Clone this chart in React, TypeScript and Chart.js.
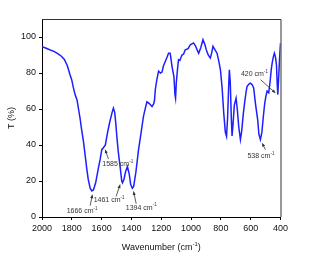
import { useEffect, useRef } from "react";
import { Chart, registerables } from "chart.js";

Chart.register(...registerables);

const wavenumbers = [
  2000, 1980, 1960, 1940, 1920, 1900, 1880, 1868, 1850, 1830, 1812, 1800, 1790, 1778, 1765, 1755, 1745, 1735, 1722, 1710,
  1700, 1690, 1677, 1666, 1655, 1640, 1622, 1610, 1599, 1588, 1575, 1560, 1545, 1530, 1521, 1512, 1505, 1498, 1488, 1476,
  1465, 1460, 1450, 1440, 1427, 1415, 1405, 1394, 1385, 1370, 1353, 1335, 1319, 1305, 1296, 1280, 1262, 1250, 1245, 1240,
  1230, 1218, 1205, 1195, 1185, 1173, 1160, 1151, 1140, 1128, 1115, 1108, 1104, 1099, 1090, 1084, 1075, 1061, 1050, 1039,
  1020, 1005, 983, 970, 960, 949, 935, 920, 908, 898, 885, 871, 862, 853, 840, 826, 815, 803, 792, 781,
  770, 762, 755, 748, 743, 737, 730, 725, 718, 710, 698, 690, 680, 669, 660, 650, 640, 630, 624, 610,
  602, 590, 580, 568, 553, 545, 535, 525, 515, 506, 498, 490, 479, 470, 462, 456, 448, 441, 434, 427,
  422, 418, 412, 405, 400,
];

const transmittance = [
  94.6, 94.0, 93.3, 92.6, 92.0, 91.0, 90.0, 89.2, 87.5, 84, 79, 76, 72, 68, 65, 60, 55, 49, 42, 34,
  27, 21, 16, 14.5, 15, 19, 27, 32, 37.4, 38.5, 40, 47, 53, 58, 60.5, 58, 52, 44.8, 36, 28,
  20, 19, 21, 25, 28, 24, 18, 16, 17, 25, 37, 47, 56, 61, 64, 63, 61.4, 63, 65, 70.7,
  76, 81, 80, 80.5, 84, 86.4, 89, 91, 91, 83.7, 78, 68, 66, 74.6, 83, 87.4, 87, 90, 90.5, 92.9,
  93.5, 95.7, 96.7, 95, 93, 91, 94, 98.5, 96, 92.9, 90, 88.3, 91, 94.8, 93, 91, 87, 81.8, 72, 58,
  47, 44.8, 55, 72, 81.8, 75, 55, 45, 52, 62, 66, 60, 50, 43, 48, 57, 64, 70, 72.6, 74,
  74.4, 73.5, 71.7, 63, 54, 46, 43, 47, 56, 63, 67, 70, 69, 75, 82, 85.5, 89, 91, 89, 84.6,
  74, 68, 78, 90, 96.7,
];

const xTicks = [2000, 1800, 1600, 1400, 1200, 1000, 800, 600, 400];
const yTicks = [0, 20, 40, 60, 80, 100];

// Peak annotations: label, arrow head (x,y), arrow tail (x,y), text centre (x,y) in data units
const peakLabels = ["1666", "1585", "1461", "1394", "538", "420"];
const headX = [1662, 1576, 1476, 1386, 523, 434];
const headY = [12.4, 37.4, 18, 14.2, 41, 68.9];
const tailX = [1677, 1554, 1503, 1368, 501, 534];
const tailY = [6.3, 32.2, 11.4, 7.4, 37.4, 76.3];
const textX = [1731, 1492, 1550, 1334, 531, 575];
const textY = [3.5, 29.6, 9.2, 5.2, 33.7, 79.6];

const FONT = "'Liberation Sans', Arial, sans-serif";

function drawCm(ctx: CanvasRenderingContext2D, prefix: string, cx: number, cy: number, size: number, color: string) {
  ctx.save();
  ctx.fillStyle = color;
  ctx.textBaseline = "middle";
  ctx.textAlign = "left";
  ctx.font = `${size}px ${FONT}`;
  const main = prefix + "cm";
  const wMain = ctx.measureText(main).width;
  const supSize = size * 0.65;
  ctx.font = `${supSize}px ${FONT}`;
  const wSup = ctx.measureText("-1").width;
  let close = "";
  let wClose = 0;
  if (prefix.startsWith("Wavenumber")) {
    close = ")";
    ctx.font = `${size}px ${FONT}`;
    wClose = ctx.measureText(close).width;
  }
  const total = wMain + wSup + wClose;
  let x = cx - total / 2;
  ctx.font = `${size}px ${FONT}`;
  ctx.fillText(main, x, cy);
  x += wMain;
  ctx.font = `${supSize}px ${FONT}`;
  ctx.fillText("-1", x, cy - size * 0.35);
  x += wSup;
  if (close) {
    ctx.font = `${size}px ${FONT}`;
    ctx.fillText(close, x, cy);
  }
  ctx.restore();
}

const annotationPlugin = {
  id: "irAnnotations",
  afterDraw(chart: any) {
    const { ctx, chartArea, scales } = chart;
    const xs = scales.x;
    const ys = scales.y;
    // frame top and right
    ctx.save();
    ctx.strokeStyle = "#333";
    ctx.lineWidth = 1;
    ctx.beginPath();
    ctx.moveTo(chartArea.left, chartArea.top + 0.5);
    ctx.lineTo(chartArea.right + 0.5, chartArea.top + 0.5);
    ctx.lineTo(chartArea.right + 0.5, chartArea.bottom);
    ctx.stroke();
    ctx.restore();

    for (let i = 0; i < peakLabels.length; i++) {
      const hx = xs.getPixelForValue(headX[i]);
      const hy = ys.getPixelForValue(headY[i]);
      const tx = xs.getPixelForValue(tailX[i]);
      const ty = ys.getPixelForValue(tailY[i]);
      ctx.save();
      ctx.strokeStyle = "#333";
      ctx.fillStyle = "#333";
      ctx.lineWidth = 0.8;
      ctx.beginPath();
      ctx.moveTo(tx, ty);
      ctx.lineTo(hx, hy);
      ctx.stroke();
      const ang = Math.atan2(hy - ty, hx - tx);
      const L = 3.5;
      const W = 1.6;
      ctx.beginPath();
      ctx.moveTo(hx, hy);
      ctx.lineTo(hx - L * Math.cos(ang) + W * Math.sin(ang), hy - L * Math.sin(ang) - W * Math.cos(ang));
      ctx.lineTo(hx - L * Math.cos(ang) - W * Math.sin(ang), hy - L * Math.sin(ang) + W * Math.cos(ang));
      ctx.closePath();
      ctx.fill();
      ctx.restore();
      drawCm(ctx, peakLabels[i] + " ", xs.getPixelForValue(textX[i]), ys.getPixelForValue(textY[i]), 7, "#333");
    }

    // x axis title
    drawCm(ctx, "Wavenumber (", (chartArea.left + chartArea.right) / 2, chartArea.bottom + 31, 9, "#111");
  },
};

export default function App() {
  const ref = useRef<HTMLCanvasElement | null>(null);

  useEffect(() => {
    if (!ref.current) return;
    const tickFont = { family: FONT, size: 9 };
    const chart = new Chart(ref.current, {
      type: "line",
      data: {
        datasets: [
          {
            data: wavenumbers.map((x, i) => ({ x, y: transmittance[i] })),
            borderColor: "rgb(30,30,255)",
            borderWidth: 1.5,
            pointRadius: 0,
            tension: 0,
            fill: false,
          },
        ],
      },
      options: {
        animation: false,
        responsive: false,
        maintainAspectRatio: false,
        layout: { padding: { left: 0, right: 34.5, top: 19, bottom: 0 } },
        plugins: { legend: { display: false }, tooltip: { enabled: false } },
        scales: {
          x: {
            type: "linear",
            reverse: true,
            min: 400,
            max: 2000,
            afterBuildTicks: (s: any) => {
              s.ticks = xTicks.map((v) => ({ value: v }));
            },
            afterFit: (s: any) => {
              s.height = 42;
            },
            grid: { drawOnChartArea: false, tickLength: 3, color: "#000", lineWidth: 1 },
            border: { color: "#000", width: 1 },
            ticks: {
              font: tickFont,
              color: "#111",
              padding: 3,
              maxRotation: 0,
              autoSkip: false,
              callback: (v: any) => String(v),
            },
          },
          y: {
            type: "linear",
            min: 0,
            max: 110,
            afterBuildTicks: (s: any) => {
              s.ticks = yTicks.map((v) => ({ value: v }));
            },
            afterFit: (s: any) => {
              s.width = 42;
            },
            grid: { drawOnChartArea: false, tickLength: 3, color: "#000", lineWidth: 1 },
            border: { color: "#000", width: 1 },
            ticks: { font: tickFont, color: "#111", padding: 3, autoSkip: false, callback: (v: any) => String(v) },
            title: { display: true, text: "T (%)", font: tickFont, color: "#111", padding: { top: 6, bottom: 0 } },
          },
        },
      },
      plugins: [annotationPlugin],
    } as any);
    return () => chart.destroy();
  }, []);

  return (
    <div style={{ position: "fixed", left: 0, top: 0, width: 315, height: 259, background: "#fff" }}>
      <canvas ref={ref} width={315} height={259} style={{ width: 315, height: 259, display: "block" }} />
    </div>
  );
}
